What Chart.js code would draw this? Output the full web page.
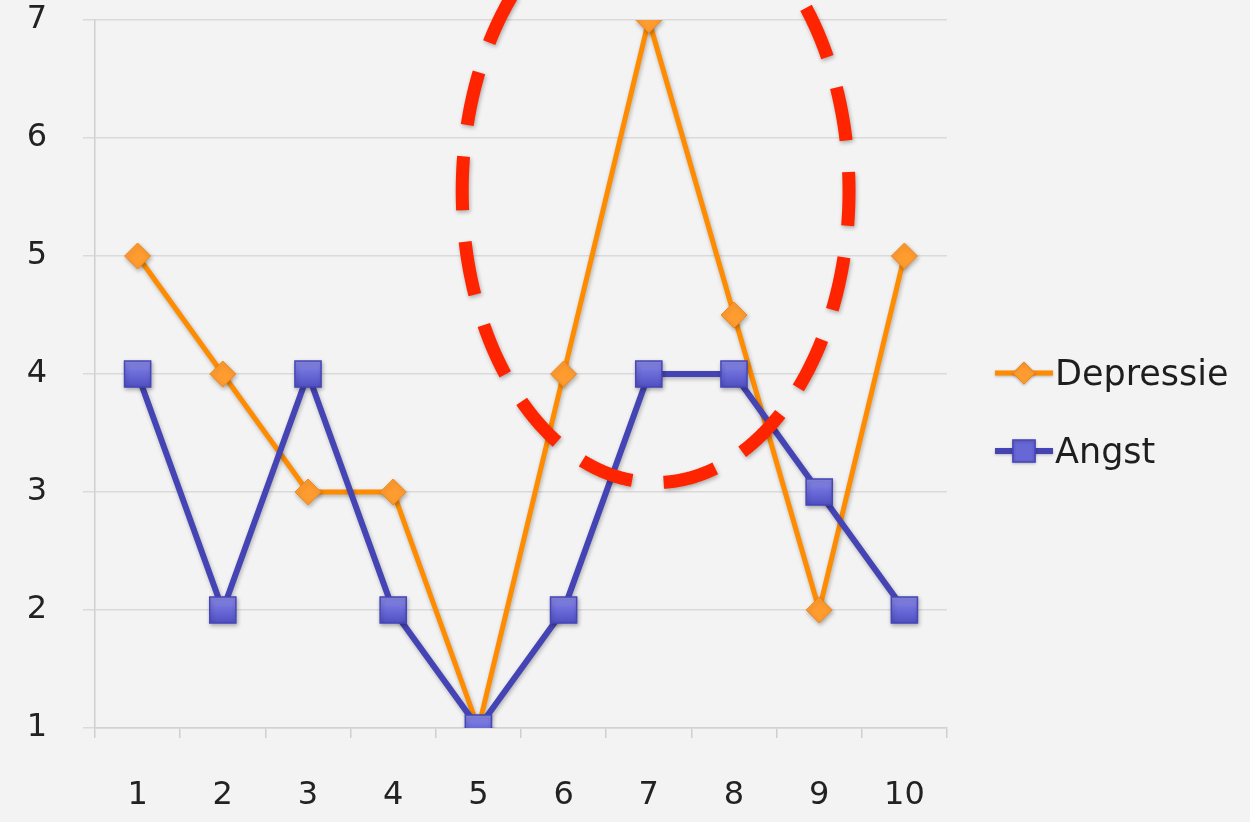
<!DOCTYPE html>
<html>
<head>
<meta charset="utf-8">
<script src="https://cdn.jsdelivr.net/npm/chart.js@4.4.1/dist/chart.umd.min.js"></script>
<style>
  html, body { margin: 0; padding: 0; background: #f3f3f3; }
  #wrap { width: 1250px; height: 822px; position: relative; }
</style>
</head>
<body>
<div id="wrap"><canvas id="c"></canvas></div>
<script>
// Meetmomenten en scores
const categories = ['1', '2', '3', '4', '5', '6', '7', '8', '9', '10'];
const depressie = [5, 4, 3, 3, 1, 4, 7, 4.5, 2, 5];
const angst = [4, 2, 4, 2, 1, 2, 4, 4, 3, 2];
const yTicks = [1, 2, 3, 4, 5, 6, 7];

// Gestippelde ellips rond de piek, in asseenheden (categorie-index, waarde)
const highlightCenter = [6.08, 5.55];
const highlightRadius = [2.27, 2.47];

const FONT = "'DejaVu Sans', sans-serif";

const bgPlugin = {
  id: 'bg',
  beforeDraw(chart) {
    const ctx = chart.ctx;
    ctx.save();
    ctx.fillStyle = '#f3f3f3';
    ctx.fillRect(0, 0, chart.width, chart.height);
    ctx.restore();
  }
};

const shadowPlugin = {
  id: 'markShadow',
  beforeDatasetsDraw(chart) {
    const ctx = chart.ctx;
    ctx.save();
    ctx.shadowColor = 'rgba(0,0,0,0.28)';
    ctx.shadowBlur = 4;
    ctx.shadowOffsetX = 1;
    ctx.shadowOffsetY = 2;
  },
  afterDatasetsDraw(chart) {
    chart.ctx.restore();
  }
};

// Blauwe vierkantjes: lichte bovenkant, donkerder onderkant
function squareFill(c) {
  const chart = c.chart;
  const area = chart.chartArea;
  if (!area || !c.parsed) return '#6767d6';
  const y = chart.scales.y.getPixelForValue(c.parsed.y);
  const g = chart.ctx.createLinearGradient(0, y - 13, 0, y + 13);
  g.addColorStop(0, '#8a8ae6');
  g.addColorStop(0.5, '#6a6ad8');
  g.addColorStop(1, '#5050c4');
  return g;
}

const legendPlugin = {
  id: 'sideLegend',
  afterDraw(chart) {
    const ctx = chart.ctx;
    const area = chart.chartArea;
    const mid = 0.5 * (area.top + area.bottom);
    const rows = [mid - 1, mid + 77];
    const x0 = area.right + 48;
    chart.data.datasets.forEach((ds, i) => {
      const y = rows[i];
      ctx.save();
      ctx.shadowColor = 'rgba(0,0,0,0.25)';
      ctx.shadowBlur = 3;
      ctx.shadowOffsetY = 1;
      ctx.strokeStyle = ds.borderColor;
      ctx.lineWidth = ds.borderWidth;
      ctx.beginPath();
      ctx.moveTo(x0, y);
      ctx.lineTo(x0 + 58, y);
      ctx.stroke();
      ctx.fillStyle = ds.legendFill;
      ctx.strokeStyle = ds.pointBorderColor;
      ctx.lineWidth = ds.pointBorderWidth;
      Chart.helpers.drawPoint(ctx, {
        pointStyle: ds.pointStyle,
        radius: ds.pointRadius * 0.85,
        borderWidth: ds.pointBorderWidth
      }, x0 + 29, y);
      ctx.restore();
      ctx.save();
      ctx.fillStyle = '#1e1e1e';
      ctx.font = '35px ' + FONT;
      ctx.textBaseline = 'middle';
      ctx.textAlign = 'left';
      ctx.fillText(ds.label, x0 + 60, y + 3);
      ctx.restore();
    });
  }
};

// Rode gestreepte ellips; streepjes met gelijke booglengte, beginnend onderaan
const ellipsePlugin = {
  id: 'highlightEllipse',
  afterDraw(chart) {
    const xs = chart.scales.x, ys = chart.scales.y;
    const cx = xs.getPixelForValue(highlightCenter[0]);
    const cy = ys.getPixelForValue(highlightCenter[1]);
    const rx = Math.abs(xs.getPixelForValue(highlightCenter[0] + highlightRadius[0]) - cx);
    const ry = Math.abs(ys.getPixelForValue(highlightCenter[1] - highlightRadius[1]) - cy);

    const N = 1440;
    const pts = [];
    const len = [0];
    for (let i = 0; i <= N; i++) {
      const t = Math.PI / 2 + (i / N) * Math.PI * 2;
      pts.push([cx + rx * Math.cos(t), cy + ry * Math.sin(t)]);
      if (i > 0) {
        const dx = pts[i][0] - pts[i - 1][0], dy = pts[i][1] - pts[i - 1][1];
        len.push(len[i - 1] + Math.hypot(dx, dy));
      }
    }
    const P = len[N];
    const count = Math.round(P / 85.5);
    const period = P / count;
    const dash = period * 0.63;
    const lead = period - dash - 8;

    const ctx = chart.ctx;
    ctx.save();
    ctx.shadowColor = 'rgba(0,0,0,0.3)';
    ctx.shadowBlur = 4;
    ctx.shadowOffsetX = 1;
    ctx.shadowOffsetY = 2;
    ctx.strokeStyle = '#ff2400';
    ctx.lineWidth = 13;
    ctx.lineCap = 'butt';
    ctx.lineJoin = 'round';
    ctx.beginPath();
    let i = 0;
    for (let k = 0; k < count; k++) {
      const s0 = lead + k * period, s1 = s0 + dash;
      while (i < N && len[i + 1] < s0) i++;
      const f0 = (s0 - len[i]) / (len[i + 1] - len[i]);
      ctx.moveTo(pts[i][0] + f0 * (pts[i + 1][0] - pts[i][0]), pts[i][1] + f0 * (pts[i + 1][1] - pts[i][1]));
      while (i < N && len[i + 1] < s1) { i++; ctx.lineTo(pts[i][0], pts[i][1]); }
      const j = Math.min(i, N - 1);
      const f1 = (s1 - len[j]) / (len[j + 1] - len[j]);
      ctx.lineTo(pts[j][0] + f1 * (pts[j + 1][0] - pts[j][0]), pts[j][1] + f1 * (pts[j + 1][1] - pts[j][1]));
    }
    ctx.stroke();
    ctx.restore();
  }
};

new Chart(document.getElementById('c'), {
  type: 'line',
  data: {
    labels: categories,
    datasets: [
      {
        label: 'Depressie',
        data: depressie,
        order: 2,
        borderColor: '#ff8c00',
        borderWidth: 5,
        pointStyle: 'rectRot',
        pointRadius: 13,
        pointHoverRadius: 13,
        pointBackgroundColor: '#ff9c30',
        legendFill: '#ff9c30',
        pointBorderColor: '#f28a1c',
        pointBorderWidth: 1,
        tension: 0
      },
      {
        label: 'Angst',
        data: angst,
        order: 1,
        borderColor: '#4444b4',
        borderWidth: 6,
        pointStyle: 'rect',
        pointRadius: 18.5,
        pointHoverRadius: 18.5,
        pointBackgroundColor: squareFill,
        legendFill: '#6767d6',
        pointBorderColor: '#4646b8',
        pointBorderWidth: 1.5,
        tension: 0
      }
    ]
  },
  options: {
    responsive: true,
    maintainAspectRatio: false,
    animation: false,
    events: [],
    layout: { padding: { top: 18, right: 303, left: 0, bottom: 0 } },
    plugins: {
      legend: { display: false },
      tooltip: { enabled: false }
    },
    scales: {
      x: {
        offset: true,
        afterFit(scale) {
          scale.height = 94;
          scale.paddingLeft = 0;
          scale.paddingRight = 0;
        },
        grid: {
          offset: true,
          drawOnChartArea: false,
          drawTicks: true,
          tickLength: 10,
          color: '#cfcfcf',
          lineWidth: 1.5
        },
        border: { display: true, color: '#d2d2d2', width: 1.5 },
        ticks: {
          padding: 38,
          color: '#222',
          font: { family: FONT, size: 32 },
          maxRotation: 0
        }
      },
      y: {
        min: 1,
        max: 7,
        afterFit(scale) {
          scale.width = 95;
          scale.paddingTop = 0;
          scale.paddingBottom = 0;
        },
        afterBuildTicks(scale) { scale.ticks = yTicks.map(v => ({ value: v })); },
        grid: {
          color: '#dadada',
          lineWidth: 1.5,
          tickLength: 12
        },
        border: { display: true, color: '#cfcfcf', width: 1.5 },
        ticks: {
          padding: 36,
          color: '#222',
          font: { family: FONT, size: 32 }
        }
      }
    }
  },
  plugins: [bgPlugin, shadowPlugin, ellipsePlugin, legendPlugin]
});
</script>
</body>
</html>
